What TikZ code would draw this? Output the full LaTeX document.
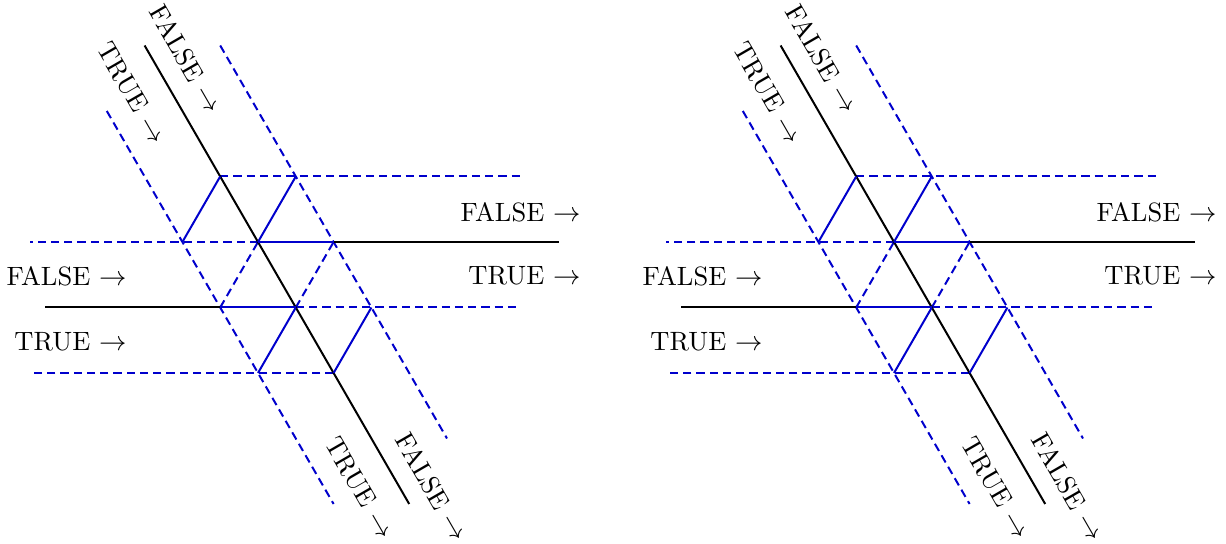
\documentclass[tikz,border=0pt]{standalone}
\begin{document}
\begin{tikzpicture}[x=0.4pt,y=-0.4pt,
  blk/.style={black, line width=0.8pt},
  bsolid/.style={blue!80!black, line width=0.8pt},
  bdash/.style={blue!80!black, line width=0.8pt, dash pattern=on 3.3pt off 2pt},
  lab/.style={inner sep=0pt, font=\fontsize{10.6}{12.7}\selectfont},
  rlab/.style={lab, rotate=-60}]
\useasboundingbox (0,0) rectangle (1226,544);
\foreach \s/\k in {0/a,636/b}{
\begin{scope}[xshift=\s*0.4pt]
  % grid points
  \coordinate (\k-0m1) at (220.2,176.5);
  \coordinate (\k-1m1) at (295.8,176.5);
  \coordinate (\k-m10) at (182.4,242);
  \coordinate (\k-00) at (258,242);
  \coordinate (\k-10) at (333.6,242);
  \coordinate (\k-m11) at (220.2,307.5);
  \coordinate (\k-01) at (295.8,307.5);
  \coordinate (\k-11) at (371.4,307.5);
  \coordinate (\k-m12) at (258,373);
  \coordinate (\k-02) at (333.6,373);
  % free ends
  \coordinate (\k-bt) at (144.6,45.5);
  \coordinate (\k-bb) at (409.2,504);
  \coordinate (\k-lt) at (106.8,111);
  \coordinate (\k-lb) at (333.6,504);
  \coordinate (\k-rt) at (220.2,45.5);
  \coordinate (\k-rb) at (447,438.5);
  \coordinate (\k-h1e) at (520,176.5);
  \coordinate (\k-h2s) at (30,242);
  \coordinate (\k-h2e) at (559,242);
  \coordinate (\k-h3s) at (45,307.5);
  \coordinate (\k-h3e) at (521,307.5);
  \coordinate (\k-h4s) at (30,373);
  % dashed lines
  \draw[bdash] (\k-lt) -- (\k-lb);
  \draw[bdash] (\k-rt) -- (\k-rb);
  \draw[bdash] (\k-0m1) -- (\k-h1e);
  \draw[bdash] (\k-00) -- (\k-h2s);
  \draw[bdash] (\k-01) -- (\k-h3e);
  \draw[bdash] (\k-02) -- (\k-h4s);
  \draw[bdash] (\k-m11) -- (\k-00);
  \draw[bdash] (\k-01) -- (\k-10);
  % black lines
  \draw[blk] (\k-bt) -- (\k-bb);
  \draw[blk] (\k-10) -- (\k-h2e);
  \draw[blk] (\k-h3s) -- (\k-m11);
  % solid blue
  \draw[bsolid] (\k-00) -- (\k-10);
  \draw[bsolid] (\k-m11) -- (\k-01);
  \draw[bsolid] (\k-m10) -- (\k-0m1);
  \draw[bsolid] (\k-00) -- (\k-1m1);
  \draw[bsolid] (\k-m12) -- (\k-01);
  \draw[bsolid] (\k-02) -- (\k-11);
  % labels
  \node[lab, anchor=east] (\k-rf) at (581,212) {FALSE $\rightarrow$};
  \node[lab, anchor=east] (\k-rtr) at (581,276) {TRUE $\rightarrow$};
  \node[lab, anchor=east] (\k-lf) at (127,276) {FALSE $\rightarrow$};
  \node[lab, anchor=east] (\k-ltr) at (127,342) {TRUE $\rightarrow$};
  \node[rlab] (\k-ttr) at (132,93) {TRUE $\rightarrow$};
  \node[rlab] (\k-tf) at (186,59) {FALSE $\rightarrow$};
  \node[rlab] (\k-btr) at (360,488) {TRUE $\rightarrow$};
  \node[rlab] (\k-bf) at (432,487) {FALSE $\rightarrow$};
\end{scope}}
\end{tikzpicture}
\end{document}
